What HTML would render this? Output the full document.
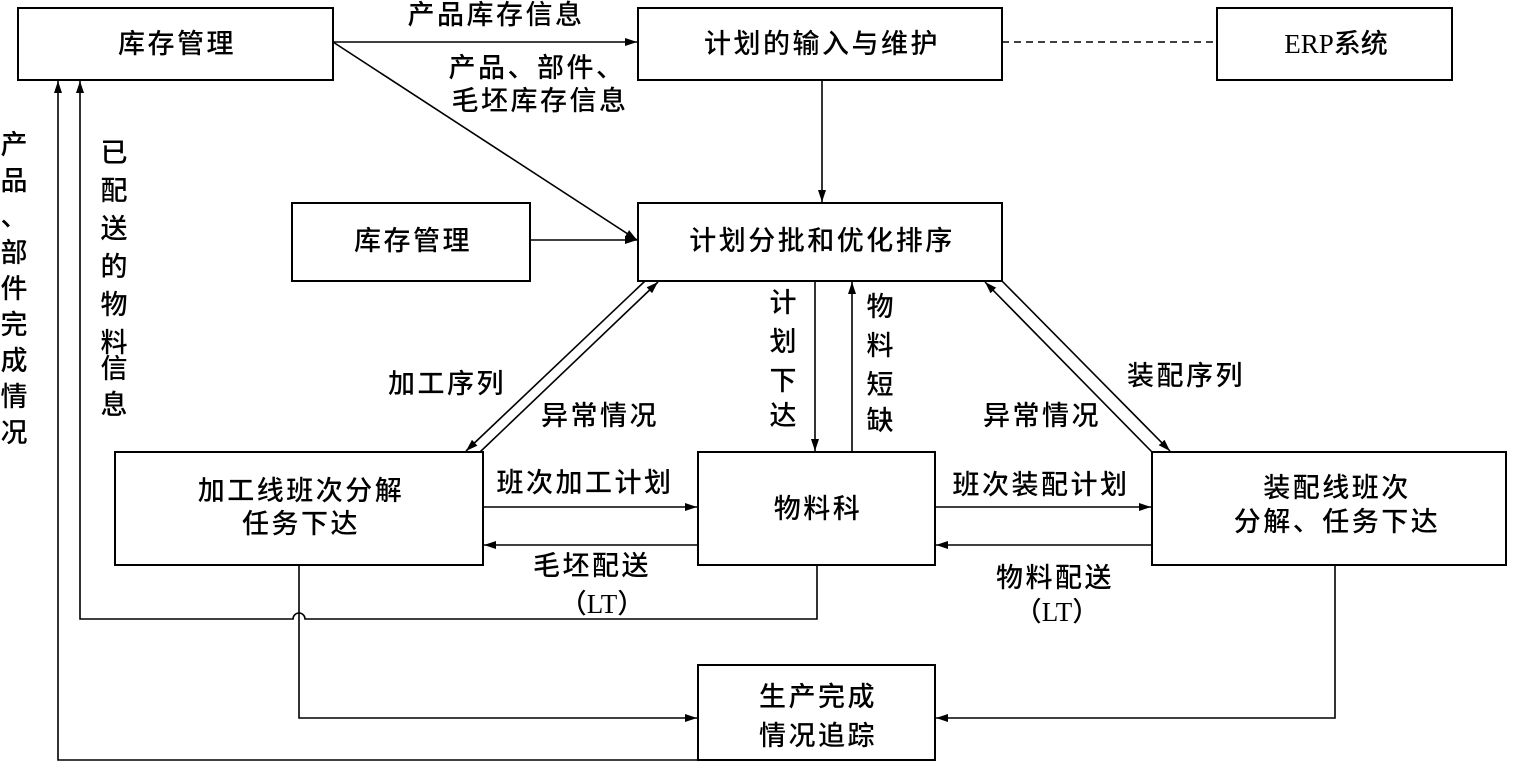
<!DOCTYPE html>
<html><head><meta charset="utf-8"><style>
html,body{margin:0;padding:0;background:#fff;}
svg{display:block;}
text{font-family:"Liberation Serif","Noto Sans CJK SC",sans-serif;font-size:27px;font-weight:500;fill:#000;letter-spacing:2.5px;}
text.v{letter-spacing:0;}
</style></head><body>
<svg width="1520" height="779" viewBox="0 0 1520 779" xmlns="http://www.w3.org/2000/svg">
<defs><marker id="a" viewBox="0 0 12 8" refX="12" refY="4" markerWidth="12" markerHeight="8" markerUnits="userSpaceOnUse" orient="auto"><path d="M0,0 L12,4 L0,8 z" fill="#000"/></marker></defs>
<g fill="none" stroke="#000" stroke-width="2">
<rect x="18" y="8" width="315" height="72"/>
<rect x="638" y="8" width="364" height="72"/>
<rect x="1217" y="8" width="235" height="72"/>
<rect x="292" y="203" width="238" height="78"/>
<rect x="638" y="203" width="364" height="78"/>
<rect x="115" y="452" width="368" height="113"/>
<rect x="698" y="452" width="237" height="113"/>
<rect x="1152" y="452" width="354" height="113"/>
<rect x="698" y="665" width="237" height="95"/>
</g>
<g fill="none" stroke="#000" stroke-width="1.6">
<line x1="333" y1="42" x2="637" y2="42" marker-end="url(#a)"/>
<line x1="1002" y1="42" x2="1217" y2="42" stroke-dasharray="7,5"/>
<line x1="333" y1="42" x2="637" y2="240" marker-end="url(#a)"/>
<line x1="822" y1="80" x2="822" y2="202" marker-end="url(#a)"/>
<line x1="530" y1="240" x2="637" y2="240" marker-end="url(#a)"/>
<line x1="645" y1="281" x2="466" y2="451" marker-end="url(#a)"/>
<line x1="480" y1="452" x2="658" y2="282" marker-end="url(#a)"/>
<line x1="815" y1="281" x2="815" y2="451" marker-end="url(#a)"/>
<line x1="852" y1="452" x2="852" y2="282" marker-end="url(#a)"/>
<line x1="1152" y1="452" x2="985" y2="282" marker-end="url(#a)"/>
<line x1="1002" y1="281" x2="1170" y2="451" marker-end="url(#a)"/>
<line x1="483" y1="507" x2="697" y2="507" marker-end="url(#a)"/>
<line x1="698" y1="545" x2="484" y2="545" marker-end="url(#a)"/>
<line x1="935" y1="507" x2="1151" y2="507" marker-end="url(#a)"/>
<line x1="1152" y1="545" x2="936" y2="545" marker-end="url(#a)"/>
<path d="M817,565 V619 H305 A6,6 0 0 0 293,619 H80 V81" marker-end="url(#a)"/>
<path d="M299,565 V718 H697" marker-end="url(#a)"/>
<path d="M1335,565 V718 H936" marker-end="url(#a)"/>
<path d="M698,760 H58 V81" marker-end="url(#a)"/>
</g>
<g text-anchor="middle">
<text x="177" y="53">库存管理</text>
<text x="822" y="53">计划的输入与维护</text>
<text x="1336" y="53" style="letter-spacing:0">ERP系统</text>
<text x="413" y="250">库存管理</text>
<text x="822" y="250">计划分批和优化排序</text>
<text x="301" y="500">加工线班次分解</text>
<text x="301" y="533">任务下达</text>
<text x="818" y="518">物料科</text>
<text x="1337" y="497">装配线班次</text>
<text x="1337" y="531">分解、任务下达</text>
<text x="818" y="706">生产完成</text>
<text x="818" y="745">情况追踪</text>
<text x="496" y="24">产品库存信息</text>
<text x="537" y="77">产品、部件、</text>
<text x="540" y="110">毛坯库存信息</text>
<text x="447" y="393">加工序列</text>
<text x="600" y="425">异常情况</text>
<text x="1186" y="385">装配序列</text>
<text x="1042" y="425">异常情况</text>
<text x="585" y="492">班次加工计划</text>
<text x="1041" y="494">班次装配计划</text>
<text x="592" y="575">毛坯配送</text>
<text x="602" y="613" style="letter-spacing:0">（LT）</text>
<text x="1055" y="587">物料配送</text>
<text x="1057" y="621" style="letter-spacing:0">（LT）</text>
</g>
<g text-anchor="middle">
<text class="v" x="783" y="312">计</text><text class="v" x="783" y="351">划</text><text class="v" x="783" y="390">下</text><text class="v" x="783" y="425">达</text>
<text class="v" x="880" y="316">物</text><text class="v" x="880" y="355">料</text><text class="v" x="880" y="394">短</text><text class="v" x="880" y="430">缺</text>
<text class="v" x="14" y="154">产</text><text class="v" x="14" y="190">品</text><text class="v" x="14" y="226">、</text><text class="v" x="14" y="262">部</text><text class="v" x="14" y="298">件</text><text class="v" x="14" y="334">完</text><text class="v" x="14" y="370">成</text><text class="v" x="14" y="406">情</text><text class="v" x="14" y="442">况</text>
<text class="v" x="114" y="162">已</text><text class="v" x="114" y="200">配</text><text class="v" x="114" y="238">送</text><text class="v" x="114" y="276">的</text><text class="v" x="114" y="314">物</text><text class="v" x="114" y="352">料</text><text class="v" x="114" y="378">信</text><text class="v" x="114" y="414">息</text>
</g>
</svg>
</body></html>
